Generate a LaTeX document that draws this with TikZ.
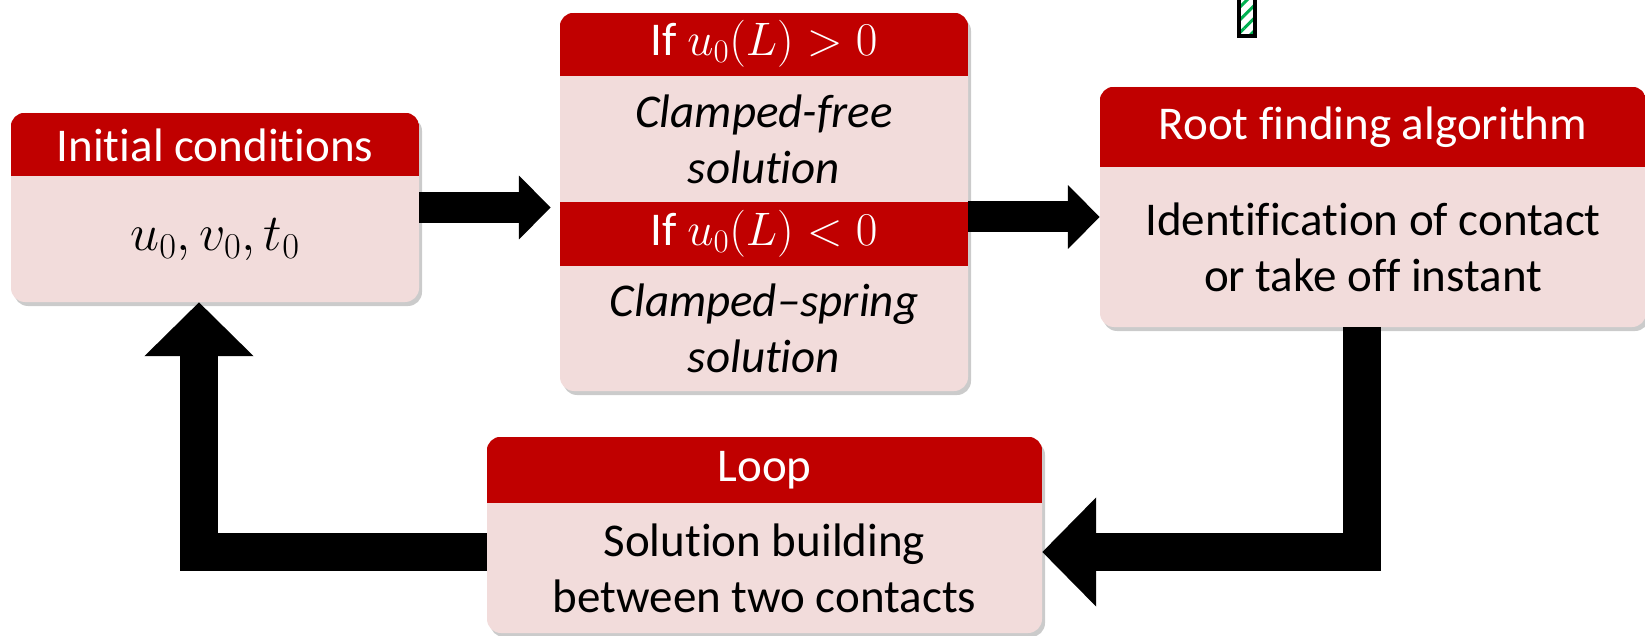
\RequirePackage{fix-cm}
\documentclass[tikz,border=0pt]{standalone}
\usepackage{amsmath}
\usepackage{fontspec}
\setmainfont{Carlito}[Ligatures=NoCommon]
\usetikzlibrary{arrows.meta,shadows,patterns.meta}
\definecolor{hdred}{HTML}{C00000}
\definecolor{bodypink}{HTML}{F2DCDB}
\definecolor{hatchgreen}{HTML}{00B050}

\begin{document}
\begin{tikzpicture}[x=1pt,y=-1pt,
    box/.style={fill=bodypink,rounded corners=14pt,inner sep=0pt,
        drop shadow={shadow xshift=3pt,shadow yshift=-4pt,fill=black!45,opacity=.45}},
    hdtext/.style={text=white,font=\fontsize{47}{56}\selectfont},
    bodytext/.style={align=center,font=\fontsize{47}{56}\selectfont},
    fat/.style={line width=31pt,line join=miter,-{Triangle[length=32pt,width=62pt]}},
    fatter/.style={line width=38pt,line join=miter,-{Triangle[length=54pt,width=106pt]}}]
            \useasboundingbox (0,0) rectangle (1645,636);
            \draw[line width=3.5pt,pattern={Lines[angle=45,distance=9pt,line width=3pt]},pattern color=hatchgreen] (1239,-5) rectangle (1255,36);
            \node[box,minimum width=408pt,minimum height=189pt] (ic) at (215,207.5) {};
            \node[box,minimum width=408pt,minimum height=378pt] (mid) at (764,202) {};
            \node[box,minimum width=546pt,minimum height=240pt] (root) at (1373,207) {};
            \node[box,minimum width=555pt,minimum height=196pt] (loop) at (764.5,535) {};
            \foreach \b/\h in {ic/176,mid/76,root/167,loop/503}{
                \begin{scope}
                    \clip[rounded corners=14pt] (\b.south west) rectangle (\b.north east);
                    \fill[hdred] (\b.north west) rectangle (\b.east |- 0,\h);
                \end{scope}
            }
            \fill[hdred] (mid.west |- 0,202) rectangle (mid.east |- 0,266);
            \node[hdtext] (icH) at (215,145) {Initial conditions};
            \node[bodytext,font=\fontsize{52}{60}\selectfont] (icB) at (215,240) {$u_0, v_0, t_0$};
            \node[hdtext] (midHa) at (764,44) {If $u_0(L) > 0$};
            \node[bodytext] (midBa) at (764,139) {\itshape Clamped-free\\ \itshape solution};
            \node[hdtext] (midHb) at (764,234) {If $u_0(L) < 0$};
            \node[bodytext] (midBb) at (764,328) {\itshape Clamped\textendash spring\\ \itshape solution};
            \node[hdtext] (rootH) at (1373,127) {Root finding algorithm};
            \node[bodytext] (rootB) at (1373,247) {Identification of contact\\ or take off instant};
            \node[hdtext] (loopH) at (764.5,470) {Loop};
            \node[bodytext] (loopB) at (764.5,568) {Solution building\\ between two contacts};
            \draw[fat,shorten >=9pt] (ic.east) -- (ic.east -| mid.west);
            \draw[fat] ([yshift=-10pt]root.west -| mid.east) -- ([yshift=-10pt]root.west);
            \draw[fatter] ([xshift=-11pt]root.south) |- ([yshift=-17pt]loop.east);
            \draw[fatter] ([yshift=-17pt]loop.west) -| ([xshift=-16pt]ic.south);
        \end{tikzpicture}
\end{document}
